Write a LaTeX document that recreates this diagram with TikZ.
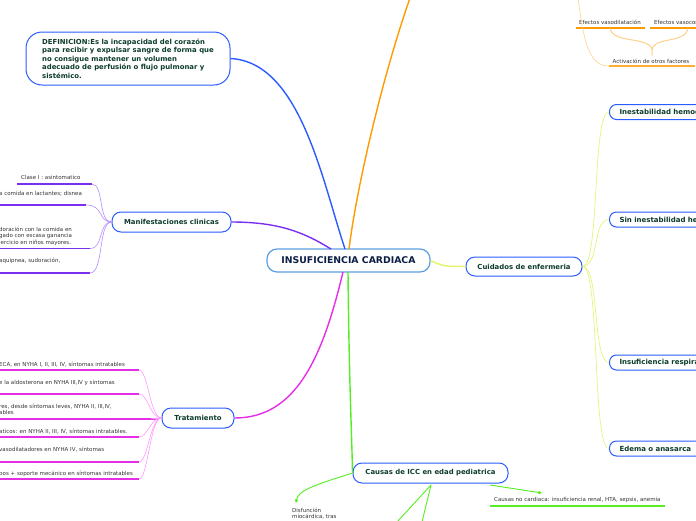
\documentclass[tikz,border=0pt]{standalone}
\usepackage{fontspec}
\setmainfont{DejaVu Sans}
\usetikzlibrary{arrows.meta}
\definecolor{navy}{HTML}{0B1F45}
\definecolor{dgreen}{HTML}{0D3B2E}
\definecolor{txt}{HTML}{333333}
\definecolor{cblue}{HTML}{2A5CFF}
\definecolor{lblue}{HTML}{5B9FE3}
\definecolor{corange}{HTML}{FF9A00}
\definecolor{lorange}{HTML}{FFD08A}
\definecolor{cpurple}{HTML}{7B2FF0}
\definecolor{lpurple}{HTML}{B38BFF}
\definecolor{cmag}{HTML}{E62EE6}
\definecolor{lmag}{HTML}{FF99FF}
\definecolor{cgreen}{HTML}{55EE22}
\definecolor{cyellow}{HTML}{E4F26A}
\tikzset{
  topic/.style={draw=cblue, line width=1pt, fill=white, rounded corners=9pt, text=dgreen,
    font=\bfseries\fontsize{6.9}{8.7}\selectfont, inner sep=2pt},
  sub/.style={draw=cblue, line width=1pt, fill=white, rounded corners=7pt, text=dgreen,
    font=\bfseries\fontsize{7}{8}\selectfont, anchor=west, minimum height=15pt,
    text width=150pt, align=left, inner xsep=10pt},
  small/.style={text=txt, font=\fontsize{5.5}{6.6}\selectfont, inner sep=0pt, align=left},
  branch/.style={line width=1.4pt},
  twig/.style={line width=0.6pt},
  ul/.style={line width=1.8pt},
  gtip/.style={-{Triangle[width=3.5pt,length=3.5pt]}}
}
\begin{document}
\begin{tikzpicture}[x=1pt,y=-1pt]
\useasboundingbox (0,0) rectangle (696,520);

% ---------- main branch starts ----------
\coordinate (bt) at (345,249);
\coordinate (ot) at (349,249);
\coordinate (otop) at (410,-2);
\coordinate (pt) at (331,249);
\coordinate (mt) at (343,272);
\coordinate (gt) at (348,272);

% ---------- nodes ----------
\node[draw=lblue, line width=1.2pt, rounded corners=10pt, minimum width=163pt, minimum height=23pt,
  fill=white, text=navy, font=\bfseries\fontsize{9.3}{10}\selectfont] (ic) at (348.5,260.5) {INSUFICIENCIA CARDIACA};

\node[topic, rounded corners=16pt, minimum width=204pt, minimum height=53pt, align=left,
  font=\bfseries\fontsize{6.9}{8.6}\selectfont] (def) at (128,58.5)
 {DEFINICION:Es la incapacidad del corazón\\para recibir y expulsar sangre de forma que\\no consigue mantener un volumen\\adecuado de perfusión o flujo pulmonar y\\sistémico.};

\node[topic, minimum width=119pt, minimum height=20pt] (mc) at (171.5,222) {Manifestaciones clinicas};
\node[topic, minimum width=72pt, minimum height=20pt] (tr) at (198,418) {Tratamiento};
\node[topic, minimum width=116pt, minimum height=19pt] (ce) at (524,266.5) {Cuidados de enfermeria};
\node[topic, minimum width=155pt, minimum height=20pt] (ca) at (430.5,473) {Causas de ICC en edad pediatrica};

\node[sub] (s1) at (609,112) {Inestabilidad hemodinámica};
\node[sub] (s2) at (609,219.5) {Sin inestabilidad hemodinámica};
\node[sub] (s3) at (609,362.5) {Insuficiencia respiratoria};
\node[sub] (s4) at (609,448.5) {Edema o anasarca};

% ---------- connectors from central ----------
\draw[branch, cblue] (bt) .. controls (322,180) and (300,62) .. (def.east);
\draw[branch, corange] (ot) .. controls (357,185) and (383,75) .. (otop);
\draw[branch, cpurple] (pt) .. controls (305,233) and (280,222) .. (mc.east);
\draw[branch, cmag] (mt) .. controls (322,360) and (295,418) .. (tr.east);
\draw[branch, cgreen] (gt) .. controls (349,380) and (352,440) .. (ca.west);
\draw[branch, cyellow] (ic.east) .. controls (445,268) and (452,266) .. (ce.west);

% ---------- cuidados children ----------
\foreach \n in {s1,s2,s3,s4}
  \draw[twig, cyellow] (ce.east) .. controls (600,266) and (592,0|-\n.west) .. (\n.west);

% ---------- top-right orange ----------
\node[small, anchor=base] (ev) at (610,24.5) {Efectos vasodilatación};
\node[small, anchor=base west] (evc) at (654,24.5) {Efectos vasoconstricción};
\node[small, anchor=base] (ao) at (651,63.5) {Activación de otros factores};
\coordinate (ev1) at (576,28); \coordinate (ev2) at (645,28);
\coordinate (vc1) at (650,28); \coordinate (vc2) at (700,28);
\coordinate (ao1) at (609,66); \coordinate (ao2) at (695,66);
\coordinate (otr) at (578,-2);
\coordinate (bj) at (652,50);
\draw[ul, corange] (ev1) -- (ev2);
\draw[ul, corange] (vc1) -- (vc2);
\draw[ul, corange!80] (ao1) -- (ao2);
\draw[twig, lorange] (otr) .. controls (584,45) and (590,66) .. (ao1);
\draw[line width=1pt, lorange] (610,28) .. controls (612,44) and (650,36) .. (bj)
   (688,28) .. controls (686,44) and (654,36) .. (bj) -- (652,56);

% ---------- manifestaciones children ----------
\node[small, anchor=base west] (m1t) at (21,179.5) {Clase I : asintomatico};
\node[small, anchor=base west] (m2t) at (-1,195) {a comida en lactantes; disnea};
\node[small, anchor=base west] (m3a) at (-1,231) {doración con la comida en};
\node[small, anchor=base west] (m3b) at (-1,237.5) {gado con escasa ganancia};
\node[small, anchor=base west] (m3c) at (-1,244) {jercicio en niños mayores.};
\node[small, anchor=base west] (m4t) at (-1,262) {aquipnea, sudoración,};
\coordinate (m1) at (92,184); \coordinate (m1l) at (17,184);
\coordinate (m2) at (86,205); \coordinate (m2l) at (-2,205);
\coordinate (m3) at (90,248.5); \coordinate (m3l) at (-2,248.5);
\coordinate (m4) at (90,273); \coordinate (m4l) at (-2,273);
\foreach \a/\b in {m1l/m1,m2l/m2,m3l/m3,m4l/m4} \draw[ul, cpurple] (\a) -- (\b);
\foreach \b in {m1,m2,m3,m4}
  \draw[twig, lpurple] (mc.west) .. controls (98,222) and (104,0|-\b) .. (\b);

% ---------- tratamiento children ----------
\node[small, anchor=base west] (t1t) at (-1,366) {ECA, en NYHA I, II, III, IV, síntomas intratables};
\node[small, anchor=base west] (t2t) at (-1,384) {e la aldosterona en NYHA III,IV y síntomas};
\node[small, anchor=base west] (t3a) at (-1,408) {res, desde síntomas leves, NYHA II, III,IV,};
\node[small, anchor=base west] (t3b) at (-1,414) {ables};
\node[small, anchor=base west] (t4t) at (-1,433) {aticos: en NYHA II, III, IV, síntomas intratables.};
\node[small, anchor=base west] (t5t) at (-1,451) {vasodilatadores en NYHA IV, síntomas};
\node[small, anchor=base west] (t6t) at (-1,475) {pos + soporte mecánico en síntomas intratables};
\coordinate (t1) at (139,370); \coordinate (t2) at (139,394); \coordinate (t3) at (158,419);
\coordinate (t4) at (139,437); \coordinate (t5) at (139,462); \coordinate (t6) at (139,479);
\foreach \b in {t1,t2,t3,t4,t5,t6} {
  \draw[ul, cmag] (-2,0|-\b) -- (\b);
  \draw[twig, lmag] (tr.west) .. controls (150,418) and (148,0|-\b) .. (\b);
}

% ---------- causas children ----------
\coordinate (d1) at (296,503);
\coordinate (cb) at (431,485);
\coordinate (x1) at (397,522);
\coordinate (x2) at (422,522);
\coordinate (cr) at (490,485);
\coordinate (nc) at (542,493);
\draw[twig, cgreen, line width=0.9pt, gtip] (ca.west) .. controls (318,484) and (298,490) .. (d1);
\draw[twig, cgreen, line width=0.9pt] (cb) -- (x1);
\draw[twig, cgreen, line width=0.9pt] (cb) -- (x2);
\draw[twig, cgreen, line width=0.9pt, gtip] (cr) -- (nc);
\node[small, anchor=north west] (dis) at (292,507.5) {Disfunción\\miocárdica, tras};
\node[small, anchor=base west] (ncd) at (494,501) {Causas no cardiaca: insuficiencia renal, HTA, sepsis, anemia};
\coordinate (u1) at (490,506); \coordinate (u2) at (665,506);
\draw[ul, cgreen] (u1) -- (u2);
\end{tikzpicture}
\end{document}
